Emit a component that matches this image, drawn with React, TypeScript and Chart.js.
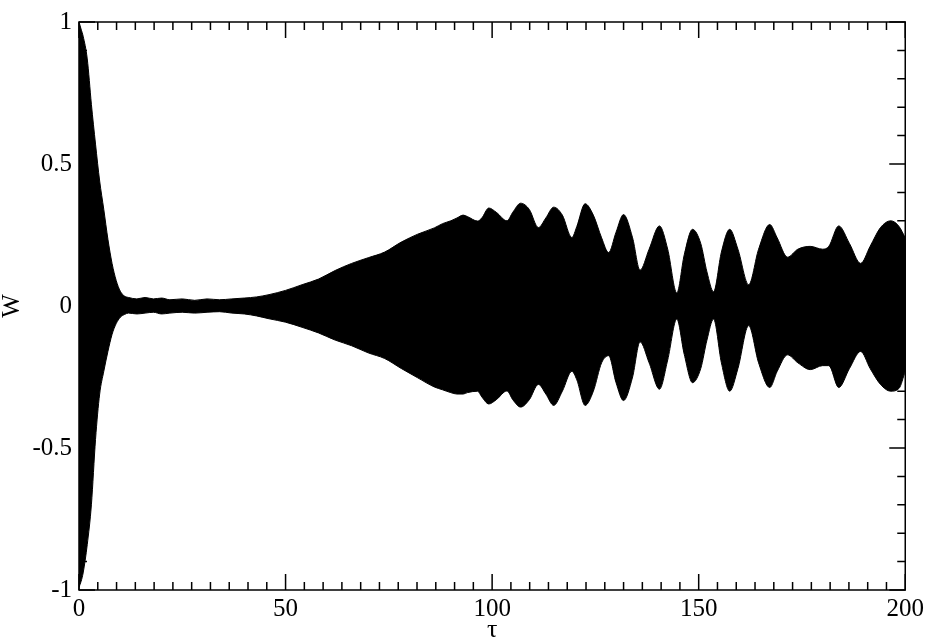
import React, { useEffect, useRef } from "react";
import { Chart, registerables } from "chart.js";

Chart.register(...registerables);

// Time axis samples (τ) at which the envelope of the dense oscillation was read
const TAU = [
  0, 0.5, 1, 2, 3, 4, 5, 6, 7, 8, 9, 10, 11, 12, 14, 16, 18, 20, 22, 25, 28, 31, 34, 37, 40, 43, 46,
  50, 54, 58, 62, 66, 70, 74, 78, 82, 86, 88, 90, 91.5, 93, 94, 96.5, 97.5, 99.2, 101, 103.6, 105,
  106.9, 109, 111.2, 113, 114.9, 117, 119.3, 120.5, 122.5, 124.5, 126.5, 128.2, 130, 131.8, 134,
  135.8, 138, 140.5, 142.5, 144.7, 146.5, 148.5, 150.5, 152, 153.6, 155.5, 157.5, 159.5, 162.1,
  164.5, 167.2, 169, 171.5, 174, 177, 180, 181.5, 183.9, 186.5, 189.2, 191.5, 194, 196.5, 198.5,
  200,
];

// Upper envelope of W(τ)
const W_UPPER = [
  1.0, 0.975, 0.95, 0.87, 0.71, 0.57, 0.44, 0.34, 0.235, 0.15, 0.09, 0.052, 0.035, 0.03, 0.025, 0.03,
  0.025, 0.028, 0.022, 0.025, 0.02, 0.025, 0.022, 0.025, 0.028, 0.032, 0.04,
  0.055, 0.075, 0.095, 0.125, 0.15, 0.17, 0.19, 0.225, 0.253, 0.275, 0.29, 0.3, 0.31, 0.32, 0.315,
  0.299, 0.31, 0.345, 0.33, 0.3, 0.33, 0.362,
  0.34, 0.276, 0.31, 0.348, 0.32, 0.241, 0.28, 0.36, 0.32, 0.24, 0.188, 0.26, 0.322, 0.24, 0.126,
  0.2, 0.282,
  0.2, 0.046, 0.18, 0.27, 0.22, 0.12, 0.05, 0.19, 0.27, 0.2, 0.075,
  0.2, 0.287, 0.24, 0.172,
  0.2, 0.21, 0.2, 0.21, 0.282, 0.22, 0.15, 0.21, 0.276, 0.3, 0.28, 0.24,
];

// Lower envelope of W(τ)
const W_LOWER = [
  -0.99, -0.97, -0.94, -0.84, -0.7, -0.47, -0.31, -0.23, -0.16, -0.1, -0.062, -0.04, -0.03,
  -0.025, -0.028, -0.025, -0.022, -0.028, -0.025, -0.022, -0.025, -0.022, -0.02, -0.025, -0.028,
  -0.035, -0.045,
  -0.057, -0.075, -0.095, -0.12, -0.14, -0.165, -0.185, -0.22, -0.253, -0.285, -0.295, -0.305,
  -0.31, -0.31, -0.305, -0.3, -0.32, -0.345, -0.33, -0.299, -0.33, -0.356,
  -0.33, -0.276, -0.31, -0.35, -0.3, -0.23, -0.26, -0.35, -0.3, -0.2, -0.175, -0.27, -0.333,
  -0.25, -0.126, -0.2, -0.293,
  -0.19, -0.046, -0.17, -0.27, -0.22, -0.12, -0.046, -0.2, -0.3, -0.22, -0.069,
  -0.2, -0.287, -0.23, -0.172,
  -0.2, -0.224, -0.21, -0.21, -0.287, -0.22, -0.16, -0.22, -0.276, -0.3, -0.29, -0.23,
];

const X_MAJOR = [0, 50, 100, 150, 200];
const X_MINOR_PER_MAJOR = 10;
const Y_MAJOR = [-1, -0.5, 0, 0.5, 1];
const Y_MINOR_STEP = 0.1;

const FONT_FAMILY = "'Liberation Serif', 'Times New Roman', serif";

const frameTicks = {
  id: "frameTicks",
  afterDatasetsDraw(chart: any) {
    const { ctx, chartArea: a, scales } = chart;
    const xs = scales.x;
    const ys = scales.y;
    const MAJ = 16;
    const MIN = 8;
    ctx.save();
    ctx.strokeStyle = "#000";
    ctx.lineWidth = 1.5;
    ctx.beginPath();
    for (let i = 0; i < X_MAJOR.length; i++) {
      const v = X_MAJOR[i];
      const px = xs.getPixelForValue(v);
      ctx.moveTo(px, a.bottom);
      ctx.lineTo(px, a.bottom - MAJ);
      ctx.moveTo(px, a.top);
      ctx.lineTo(px, a.top + MAJ);
      if (i < X_MAJOR.length - 1) {
        const step = (X_MAJOR[i + 1] - v) / (X_MINOR_PER_MAJOR + 1);
        for (let k = 1; k <= X_MINOR_PER_MAJOR; k++) {
          const m = xs.getPixelForValue(v + k * step);
          ctx.moveTo(m, a.bottom);
          ctx.lineTo(m, a.bottom - MIN);
          ctx.moveTo(m, a.top);
          ctx.lineTo(m, a.top + MIN);
        }
      }
    }
    const nMinor = Math.round((Y_MAJOR[Y_MAJOR.length - 1] - Y_MAJOR[0]) / Y_MINOR_STEP);
    for (let k = 0; k <= nMinor; k++) {
      const v = Y_MAJOR[0] + k * Y_MINOR_STEP;
      const isMajor = Y_MAJOR.some((m) => Math.abs(m - v) < 1e-6);
      const len = isMajor ? MAJ : MIN;
      const py = ys.getPixelForValue(v);
      ctx.moveTo(a.left, py);
      ctx.lineTo(a.left + len, py);
      ctx.moveTo(a.right, py);
      ctx.lineTo(a.right - len, py);
    }
    ctx.stroke();
    ctx.strokeRect(a.left, a.top, a.right - a.left, a.bottom - a.top);
    ctx.restore();
  },
};

export default function App() {
  const ref = useRef<HTMLCanvasElement | null>(null);

  useEffect(() => {
    if (!ref.current) return;
    Chart.defaults.font.family = FONT_FAMILY;
    Chart.defaults.color = "#000";
    const upper = TAU.map((t, i) => ({ x: t, y: W_UPPER[i] }));
    const lower = TAU.map((t, i) => ({ x: t, y: W_LOWER[i] }));
    const chart = new Chart(ref.current, {
      type: "line",
      data: {
        datasets: [
          {
            label: "upper",
            data: upper,
            borderColor: "#000",
            backgroundColor: "#000",
            borderWidth: 1,
            pointRadius: 0,
            cubicInterpolationMode: "monotone",
            fill: false,
          },
          {
            label: "lower",
            data: lower,
            borderColor: "#000",
            backgroundColor: "#000",
            borderWidth: 1,
            pointRadius: 0,
            cubicInterpolationMode: "monotone",
            fill: "-1",
          },
        ],
      },
      options: {
        responsive: false,
        animation: false,
        layout: { padding: { top: 10, right: 22, bottom: 0, left: 0 } },
        plugins: {
          legend: { display: false },
          tooltip: { enabled: false },
        },
        scales: {
          x: {
            type: "linear",
            min: 0,
            max: 200,
            grid: { display: false, drawTicks: false },
            border: { display: false },
            afterBuildTicks: (s: any) => {
              s.ticks = X_MAJOR.map((v) => ({ value: v }));
            },
            ticks: {
              padding: 4,
              maxRotation: 0,
              autoSkip: false,
              font: { size: 25, family: FONT_FAMILY },
              color: "#000",
              callback: (v: any) => String(v),
            },
            title: {
              display: true,
              text: "τ",
              font: { size: 26, family: FONT_FAMILY, lineHeight: 1 },
              padding: { top: 0, bottom: -1 },
              color: "#000",
            },
            afterFit: (s: any) => {
              s.height = 52;
            },
          },
          y: {
            type: "linear",
            min: -1,
            max: 1,
            grid: { display: false, drawTicks: false },
            border: { display: false },
            afterBuildTicks: (s: any) => {
              s.ticks = Y_MAJOR.map((v) => ({ value: v }));
            },
            ticks: {
              padding: 7,
              autoSkip: false,
              font: { size: 25, family: FONT_FAMILY },
              color: "#000",
              callback: (v: any) => String(v),
            },
            title: {
              display: true,
              text: "W",
              font: { size: 25, family: FONT_FAMILY, lineHeight: 1 },
              padding: { top: 0, bottom: 0 },
              color: "#000",
            },
            afterFit: (s: any) => {
              s.width = 79;
            },
          },
        },
      },
      plugins: [frameTicks],
    });
    return () => chart.destroy();
  }, []);

  return (
    <div style={{ position: "fixed", left: 0, top: 0, width: 928, height: 642, background: "#fff" }}>
      <canvas ref={ref} width={928} height={642} style={{ display: "block" }} />
    </div>
  );
}
